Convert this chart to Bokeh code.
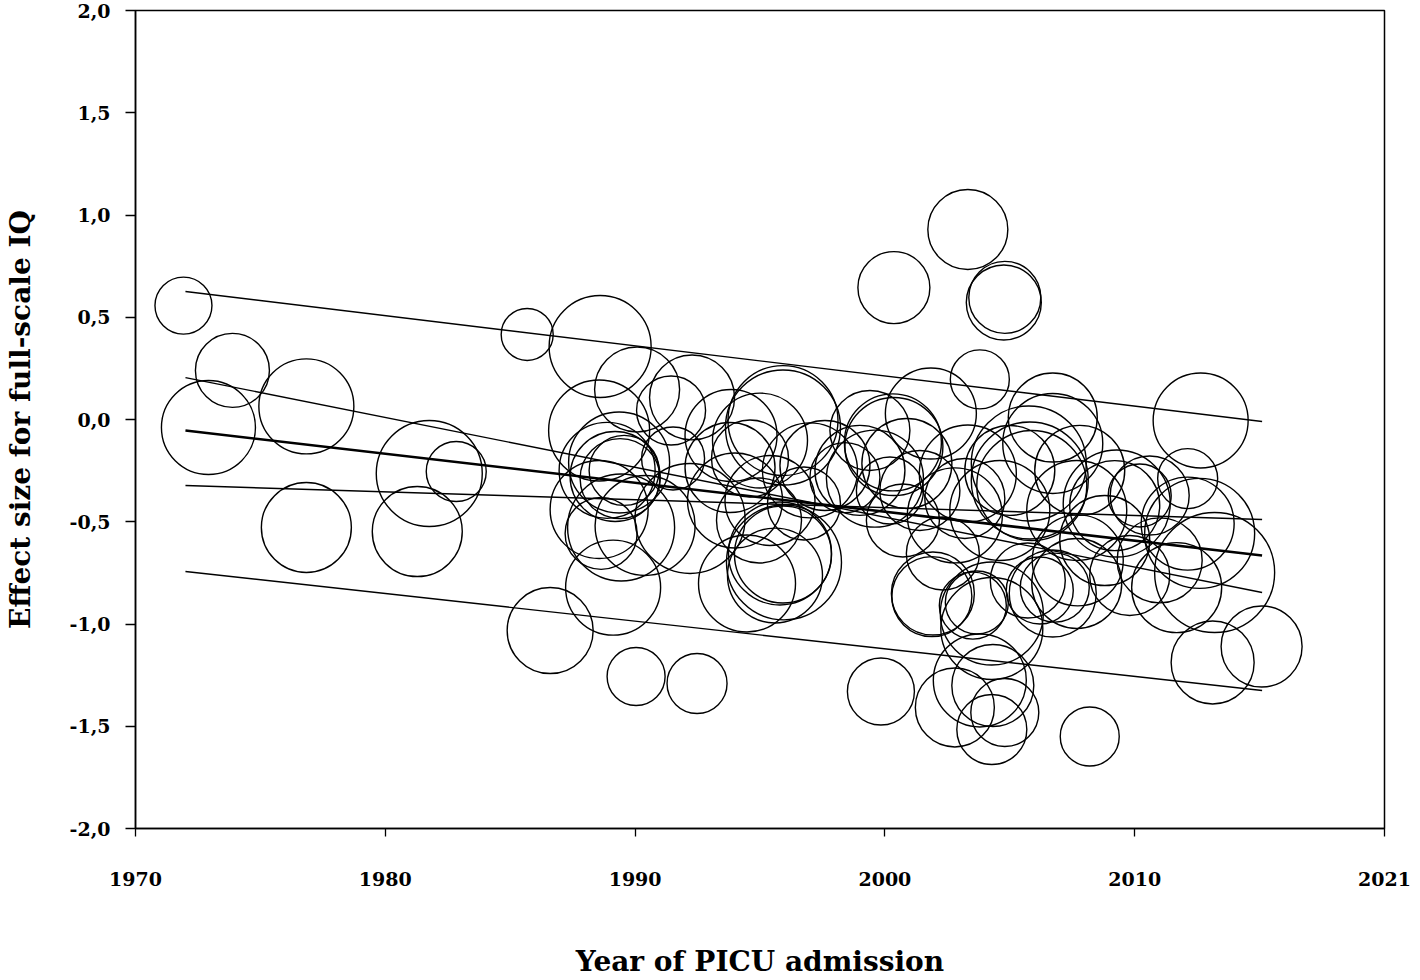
from bokeh.plotting import figure
from bokeh.models import Range1d, FixedTicker
from bokeh.embed import file_html
from bokeh.resources import INLINE

# --- study data: year of PICU admission, effect size, relative study weight ---
years = [1971.92, 1973.88, 1972.92, 1976.84, 1976.84, 1981.76, 1982.84, 1981.28, 1985.68, 1986.60,
         1988.60, 1990.08, 1991.44, 1992.28, 1988.56, 1989.36, 1989.20, 1989.40, 1988.88, 1991.52,
         1988.56, 1988.64, 1989.44, 1989.12, 1990.04, 1992.48, 1990.40, 1992.20, 1989.56, 1993.84,
         1994.60, 1995.92, 1995.92, 1994.96, 1995.80, 1995.92, 1995.96, 1994.48, 1996.76, 1998.40,
         1997.60, 1995.40, 1994.00, 1993.80, 1995.00, 1997.00, 1995.60, 2003.32, 2000.36, 2004.80,
         2004.76, 2003.80, 2001.84, 2006.72, 2000.36, 2005.76, 2000.32, 1999.60, 2000.88, 2000.20,
         2000.72, 2003.32, 2003.20, 2002.32, 2005.80, 2005.88, 2006.72, 2007.68, 2009.28, 2001.88,
         2001.92, 2003.52, 2004.28, 2005.72, 2006.20, 2006.80, 2007.72, 1999.84, 2008.20, 2002.80,
         2003.80, 2004.32, 2004.80, 2004.28, 2004.28, 2003.68, 2006.72, 2007.68, 1999.00, 1999.40,
         2001.40, 2002.80, 2004.60, 2005.00, 2012.64, 2012.12, 2010.20, 2010.60, 2009.20, 2012.12,
         2012.60, 2011.68, 2013.12, 2015.08, 2013.20, 2008.80, 2011.00, 2007.80, 2009.80]
effects = [0.557, 0.240, -0.039, 0.064, -0.528, -0.264, -0.254, -0.548, 0.416, -1.032,
           0.357, 0.147, 0.044, 0.108, -0.054, -0.210, -0.279, -0.289, -0.249, -0.191,
           -0.440, -0.557, -0.528, -0.822, -1.257, -1.291, -0.518, -0.484, -0.249, -0.078,
           -0.191, -0.039, -0.005, -0.494, -0.655, -0.660, -0.699, -0.802, -0.411, -0.284,
           -0.225, -0.396, -0.396, -0.235, -0.103, -0.249, -0.763, 0.929, 0.645, 0.597,
           0.572, 0.196, 0.029, 0.010, -0.132, -0.215, -0.112, -0.289, -0.215, -0.347,
           -0.494, -0.264, -0.386, -0.655, -0.298, -0.323, -0.117, -0.445, -0.411, -0.866,
           -0.851, -0.910, -0.949, -0.787, -0.836, -0.822, -0.689, -1.330, -1.550, -1.408,
           -1.276, -1.301, -1.433, -1.516, -1.022, -0.895, -0.851, -0.802, -0.249, -0.054,
           -0.347, -0.469, -0.445, -0.249, -0.005, -0.289, -0.372, -0.372, -0.421, -0.509,
           -0.557, -0.822, -1.188, -1.110, -0.748, -0.592, -0.689, -0.249, -0.763]
weights = [5.7, 7.4, 9.4, 9.5, 9.0, 10.6, 6.0, 9.0, 5.2, 8.6,
           10.2, 8.5, 6.9, 8.5, 10.1, 10.1, 9.0, 8.0, 9.6, 6.3,
           9.8, 7.2, 10.7, 9.5, 5.8, 6.0, 10.0, 11.0, 7.0, 9.2,
           7.7, 11.5, 11.0, 8.5, 10.3, 9.7, 11.5, 9.7, 7.3, 7.0,
           9.0, 9.0, 9.5, 9.0, 9.5, 9.5, 9.5, 8.0, 7.2, 7.2,
           7.5, 5.9, 9.1, 8.9, 9.8, 11.5, 9.7, 9.7, 9.0, 6.7,
           7.3, 9.7, 8.0, 7.3, 11.7, 11.0, 10.0, 10.0, 10.7, 8.0,
           8.3, 6.7, 10.3, 7.5, 6.7, 6.9, 9.1, 6.7, 5.9, 7.9,
           9.3, 8.2, 6.8, 7.0, 10.2, 6.3, 8.7, 9.0, 9.0, 8.0,
           8.0, 9.5, 10.0, 9.0, 9.5, 6.0, 6.3, 7.9, 9.0, 9.3,
           11.0, 9.0, 8.3, 8.1, 12.0, 9.0, 8.5, 9.0, 8.0]

# --- meta-regression line and interval bands (end points) ---
line_years = [1972.0, 2015.1]
pi_upper = [0.626, -0.010]
ci_upper = [0.205, -0.846]
fit_line = [-0.054, -0.665]
ci_lower = [-0.323, -0.489]
pi_lower = [-0.743, -1.325]

# --- axes ---
x_ticks = [1970, 1980, 1990, 2000, 2010, 2020]
x_tick_labels = ["1970", "1980", "1990", "2000", "2010", "2021"]
y_ticks = [-2.0, -1.5, -1.0, -0.5, 0.0, 0.5, 1.0, 1.5, 2.0]
y_tick_labels = ["-2,0", "-1,5", "-1,0", "-0,5", "0,0", "0,5", "1,0", "1,5", "2,0"]
x_title = "Year of PICU admission"
y_title = "Effect size for full-scale IQ"

FONT = "DejaVu Serif"

p = figure(width=1420, height=980,
           x_range=Range1d(1970, 2020), y_range=Range1d(-2.0, 2.0),
           output_backend="svg", toolbar_location=None,
           min_border_left=135, min_border_right=36,
           min_border_top=10, min_border_bottom=152)
p.background_fill_color = "white"
p.border_fill_color = "white"
p.outline_line_color = "black"
p.outline_line_width = 1.5
p.grid.visible = False

size_scale = 10.0
sizes = [w * size_scale for w in weights]
p.scatter(years, effects, size=sizes, marker="circle",
          fill_color=None, line_color="black", line_width=1.4)

for ys in (pi_upper, ci_upper, ci_lower, pi_lower):
    p.line(line_years, ys, line_color="black", line_width=1.4)
p.line(line_years, fit_line, line_color="black", line_width=2.6)

# x axis
xa = p.xaxis[0]
xa.ticker = FixedTicker(ticks=x_ticks)
xa.major_label_overrides = {t: l for t, l in zip(x_ticks, x_tick_labels)}
xa.minor_tick_line_color = None
xa.major_tick_in = 0
xa.major_tick_out = 8
xa.major_label_standoff = 35
xa.axis_label = x_title
xa.axis_label_standoff = 56

# y axis
ya = p.yaxis[0]
ya.ticker = FixedTicker(ticks=y_ticks)
ya.major_label_overrides = {t: l for t, l in zip(y_ticks, y_tick_labels)}
ya.minor_tick_line_color = None
ya.major_tick_in = 0
ya.major_tick_out = 10
ya.major_label_standoff = 15
ya.axis_label = y_title
ya.axis_label_standoff = 30

for ax in (xa, ya):
    ax.axis_line_color = "black"
    ax.axis_line_width = 1.5
    ax.major_tick_line_color = "black"
    ax.major_tick_line_width = 1.3
    ax.major_label_text_font = FONT
    ax.major_label_text_font_style = "bold"
    ax.major_label_text_font_size = "19px"
    ax.major_label_text_color = "black"
    ax.axis_label_text_font = FONT
    ax.axis_label_text_font_style = "bold"
    ax.axis_label_text_font_size = "28px"
    ax.axis_label_text_color = "black"

open("out.html", "w").write(file_html(p, INLINE))
